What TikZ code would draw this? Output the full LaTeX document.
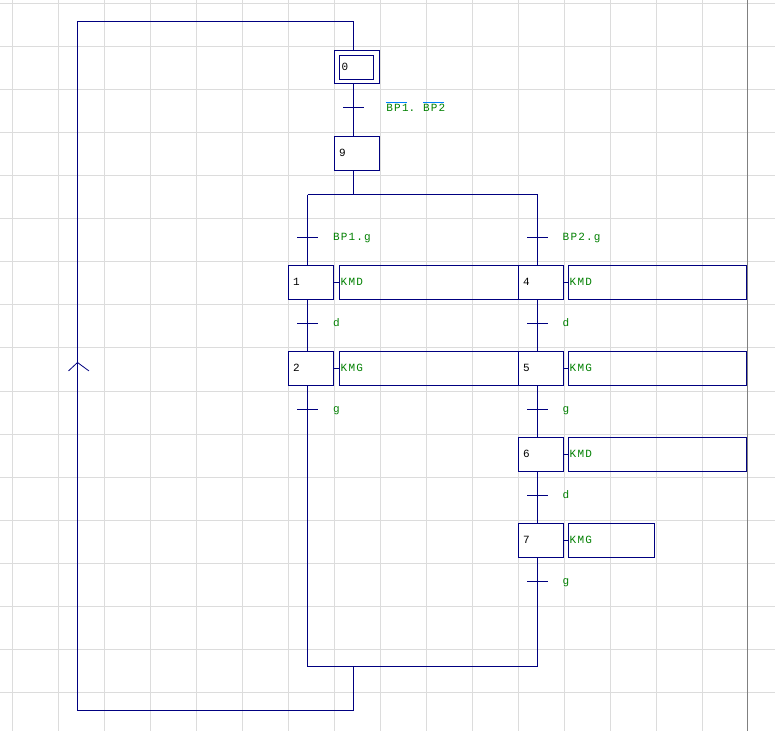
\documentclass[tikz,border=0pt]{standalone}
\usepackage{fontspec}
\usetikzlibrary{calc}
\newfontfamily\grafmono[LetterSpace=11]{Liberation Mono}
\definecolor{grafnavy}{RGB}{0,0,128}
\definecolor{grafgreen}{RGB}{0,128,0}
\definecolor{ovblue}{RGB}{0,128,255}
\definecolor{gridgray}{RGB}{220,220,220}
\definecolor{edgegray}{RGB}{128,128,128}
\newcommand{\ovbar}[1]{\setbox0\hbox{#1}\rlap{\color{ovblue}\rule[8.5pt]{\dimexpr\wd0-1.4pt\relax}{1pt}}\box0}
\newcommand{\gfnt}{\grafmono\fontsize{11}{13}\selectfont}
\begin{document}
\begin{tikzpicture}[x=1pt,y=-1pt,
  stepbox/.style={draw=grafnavy, line width=1pt, outer sep=0pt, anchor=north west, minimum width=45pt, minimum height=34pt,
    inner ysep=0pt, inner xsep=4.5pt, text width=36pt, align=left, text height=6pt, text depth=0pt,
    font=\gfnt, text=black},
  actbox/.style={draw=grafnavy, line width=1pt, outer sep=0pt, anchor=north west, minimum height=34pt,
    inner ysep=0pt, inner xsep=1.2pt, align=left, text height=6pt, text depth=0pt,
    font=\gfnt, text=grafgreen},
  link/.style={draw=grafnavy, line width=1.1pt},
  tickline/.style={draw=grafnavy, line width=1pt},
  tlabel/.style={anchor=base west, inner sep=0pt, font=\gfnt, text=grafgreen},
  gridline/.style={draw=gridgray, line width=1pt},
]
\useasboundingbox (0,0) rectangle (775,731);
\fill[white] (0,0) rectangle (775,731);
% grid
\foreach \i in {0,...,15} \draw[gridline] ({12.5+46*\i},0) -- ({12.5+46*\i},731);
\foreach \j in {0,...,16} \draw[gridline] (0,{floor(3.3+43.08*\j)+0.5}) -- (775,{floor(3.3+43.08*\j)+0.5});
\draw[draw=edgegray, line width=1pt] (747.5,0) -- (747.5,731);

% steps
\node[stepbox, minimum height=33pt] (s0) at (334.5,50.5) {};
\node[stepbox, minimum width=34pt, minimum height=24pt, text width=30pt, inner xsep=2pt] (s0in) at (339.5,55.5) {0};
\node[stepbox] (s9) at (334.5,136.5) {9};
\node[stepbox] (s1) at (288.5,265.5) {1};
\node[stepbox] (s2) at (288.5,351.5) {2};
\node[stepbox] (s4) at (518.5,265.5) {4};
\node[stepbox] (s5) at (518.5,351.5) {5};
\node[stepbox] (s6) at (518.5,437.5) {6};
\node[stepbox] (s7) at (518.5,523.5) {7};

% actions
\node[actbox, minimum width=179pt, text width=176.6pt] (a1) at (339.5,265.5) {KMD};
\node[actbox, minimum width=179pt, text width=176.6pt] (a2) at (339.5,351.5) {KMG};
\node[actbox, minimum width=178pt, text width=175.6pt] (a4) at (568.5,265.5) {KMD};
\node[actbox, minimum width=178pt, text width=175.6pt] (a5) at (568.5,351.5) {KMG};
\node[actbox, minimum width=178pt, text width=175.6pt] (a6) at (568.5,437.5) {KMD};
\node[actbox, minimum width=86pt, text width=83.6pt] (a7) at (568.5,523.5) {KMG};
\foreach \s/\a in {s1/a1,s2/a2,s4/a4,s5/a5,s6/a6,s7/a7}
  \draw[draw=grafnavy, line width=1pt] (\s.east) -- (\a.west);

% structural coordinates
\coordinate (divL) at (307.5,194.5);
\coordinate (divR) at (537.5,194.5);
\coordinate (mrgL) at (307.5,666.5);
\coordinate (mrgR) at (537.5,666.5);
\coordinate (mrgM) at (353.5,666.5);
\coordinate (loopTL) at (77.5,21.5);
\coordinate (loopBL) at (77.5,710.5);
\coordinate (arrtip) at (77.5,362.5);

% connectors
\draw[link] ([xshift=19pt]s0.south west) -- ([xshift=19pt]s9.north west);
\draw[link] ([xshift=19pt]s9.south west) -- ([xshift=19pt]s9.south west |- divL);
\draw[link] (divL) -- (divR);
\draw[link] (divL) -- ([xshift=19pt]s1.north west);
\draw[link] ([xshift=19pt]s1.south west) -- ([xshift=19pt]s2.north west);
\draw[link] ([xshift=19pt]s2.south west) -- (mrgL);
\draw[link] (divR) -- ([xshift=19pt]s4.north west);
\draw[link] ([xshift=19pt]s4.south west) -- ([xshift=19pt]s5.north west);
\draw[link] ([xshift=19pt]s5.south west) -- ([xshift=19pt]s6.north west);
\draw[link] ([xshift=19pt]s6.south west) -- ([xshift=19pt]s7.north west);
\draw[link] ([xshift=19pt]s7.south west) -- (mrgR);
\draw[link] (mrgL) -- (mrgR);
\draw[link] (mrgM) -- (mrgM |- loopBL) -- (loopBL) -- (loopTL) -- ([xshift=19pt]s0.north west |- loopTL) -- ([xshift=19pt]s0.north west);
% loop direction mark
\draw[draw=grafnavy, line width=0.8pt] ([shift={(-9,8.4)}]arrtip) -- (arrtip) -- ([shift={(11.4,8.4)}]arrtip);

% transitions
\foreach \x/\y in {353.5/107.5, 307.5/237.5, 307.5/323.5, 307.5/409.5, 537.5/237.5, 537.5/323.5, 537.5/409.5, 537.5/495.5, 537.5/581.5}
  \draw[tickline] (\x-10.5,\y) -- (\x+10.5,\y);

\node[tlabel] (t0) at (386.2,111) {\ovbar{BP1}.\ \ovbar{BP2}};
\node[tlabel] (tl1) at (332.8,240.5) {BP1.g};
\node[tlabel] (tl2) at (332.8,326.5) {d};
\node[tlabel] (tl3) at (332.8,412.5) {g};
\node[tlabel] (tr1) at (562.5,240.5) {BP2.g};
\node[tlabel] (tr2) at (562.5,326.5) {d};
\node[tlabel] (tr3) at (562.5,412.5) {g};
\node[tlabel] (tr4) at (562.5,498.5) {d};
\node[tlabel] (tr5) at (562.5,584.5) {g};
\end{tikzpicture}
\end{document}
